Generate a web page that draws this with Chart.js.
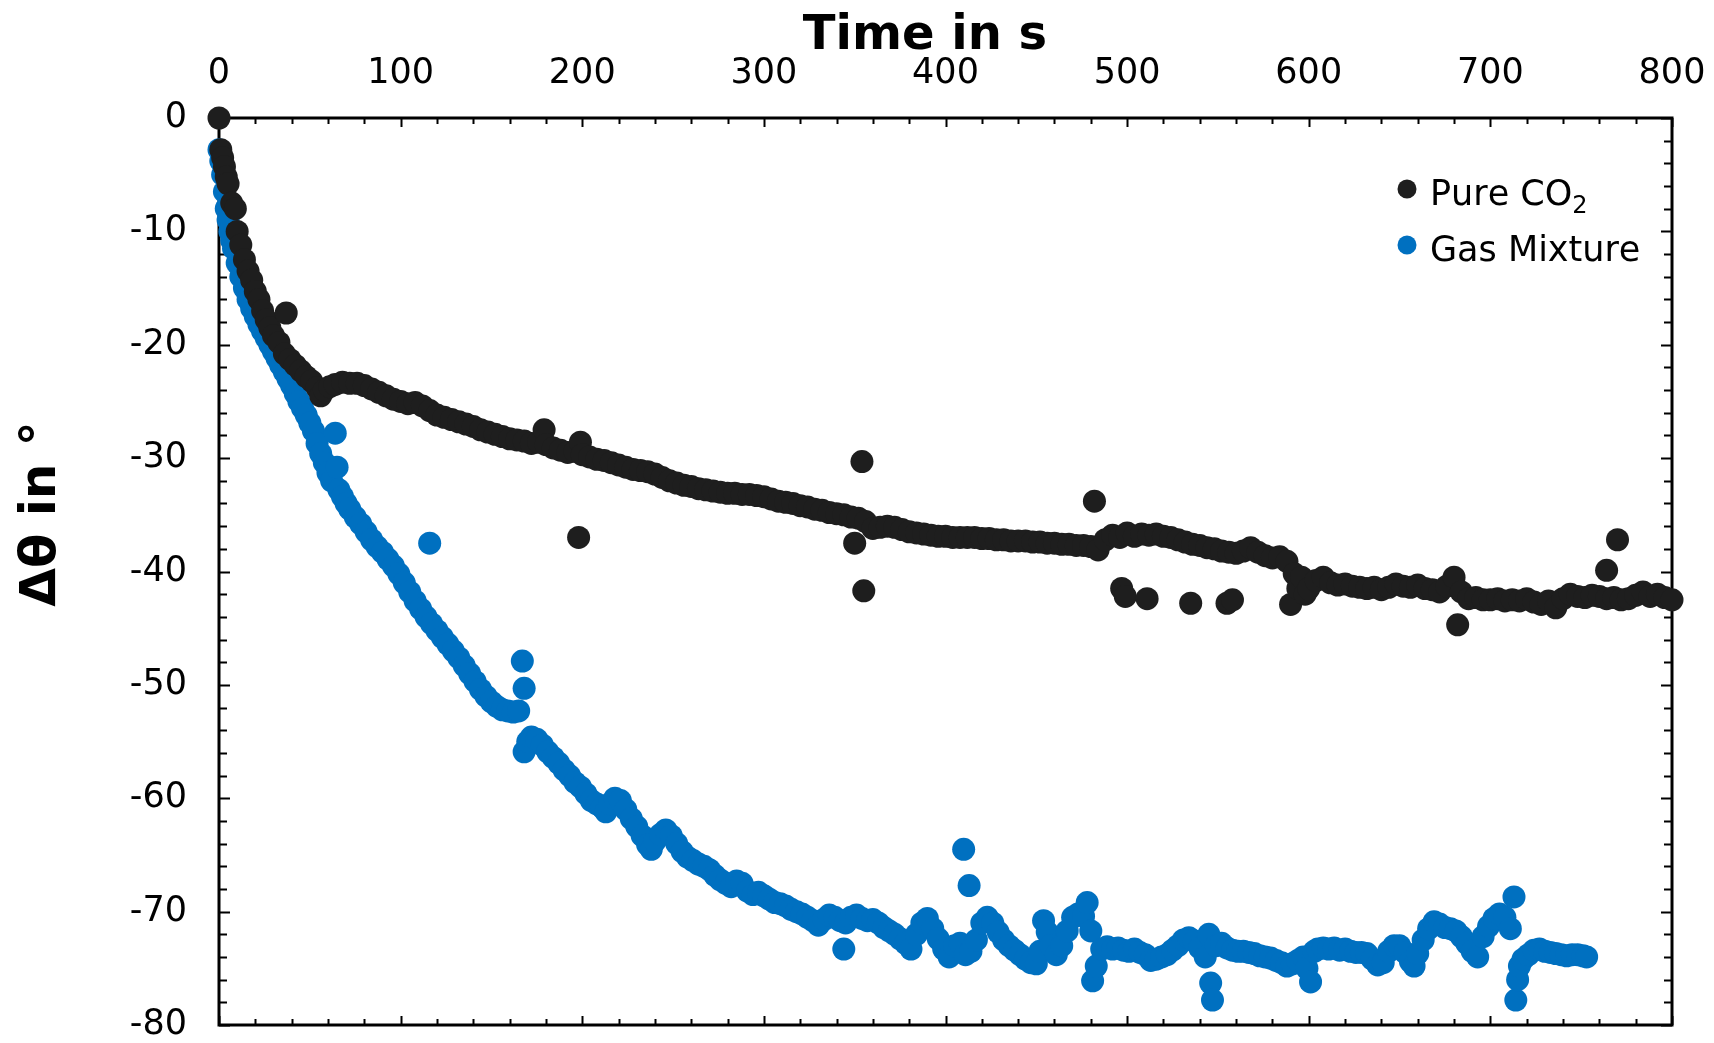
<!DOCTYPE html>
<html>
<head>
<meta charset="utf-8">
<script src="https://cdn.jsdelivr.net/npm/chart.js@4.4.0/dist/chart.umd.min.js"></script>
<style>
html, body { margin: 0; padding: 0; background: #fff; }
#wrap { width: 1714px; height: 1043px; position: relative; }
</style>
</head>
<body>
<div id="wrap"><canvas id="angleChart"></canvas></div>
<script>
// time in s / delta theta in degrees
var co2Time = [
  0,1,2,3,4,5,7,9,10,12,
  14,16,18,20,22,24,26,28,30,33,
  36,37,39,42,45,48,51,54,56,58,
  61,64,68,72,76,80,84,88,92,96,
  100,104,108,112,116,120,124,128,132,136,
  140,144,148,152,156,160,164,168,172,176,
  179,180,184,188,192,196,198,199,200,204,
  208,212,216,220,224,228,232,236,240,244,
  248,252,256,260,264,268,272,276,280,284,
  288,292,296,300,304,308,312,316,320,324,
  328,332,336,340,344,348,350,352,354,355,
  356,360,364,368,372,376,380,384,388,392,
  396,400,404,408,412,416,420,424,428,432,
  436,440,444,448,452,456,460,464,468,472,
  476,480,482,484,488,492,496,497,499,500,
  504,508,511,512,516,520,524,528,532,535,
  536,540,544,548,552,555,556,558,560,564,
  568,572,576,580,584,588,590,592,594,596,
  598,600,604,608,612,616,620,624,628,632,
  636,640,644,648,652,656,660,664,668,672,
  676,680,682,684,688,692,696,700,704,708,
  712,716,720,724,728,732,736,740,744,748,
  752,756,760,764,764,768,770,772,776,780,
  784,788,792,796,800
];
var co2Angle = [
  0,-2.8,-3.5,-4.3,-5.2,-5.8,-7.5,-8,-10,-11.2,
  -12.5,-13.5,-14.3,-15.3,-16,-17,-17.8,-18.5,-19.2,-19.8,
  -20.8,-17.2,-21.3,-21.8,-22.3,-22.8,-23.2,-23.8,-24.5,-24,
  -23.7,-23.5,-23.3,-23.4,-23.4,-23.6,-23.9,-24.2,-24.5,-24.8,
  -25,-25.2,-25.1,-25.4,-25.8,-26.2,-26.4,-26.6,-26.8,-27,
  -27.2,-27.5,-27.7,-27.9,-28.1,-28.3,-28.4,-28.5,-28.7,-28.6,
  -27.5,-28.8,-29.1,-29.3,-29.5,-29.4,-37,-28.6,-29.7,-29.9,
  -30.1,-30.2,-30.4,-30.6,-30.8,-31,-31.1,-31.2,-31.4,-31.7,
  -32,-32.2,-32.4,-32.5,-32.7,-32.8,-32.9,-33,-33.1,-33.1,
  -33.2,-33.2,-33.3,-33.4,-33.6,-33.8,-33.9,-34,-34.2,-34.3,
  -34.5,-34.6,-34.8,-34.9,-35,-35.2,-37.5,-35.3,-30.3,-41.7,
  -35.6,-36.2,-36.1,-36,-36.1,-36.3,-36.5,-36.6,-36.7,-36.8,
  -36.9,-36.9,-37,-37,-37,-37,-37.1,-37.1,-37.2,-37.2,
  -37.3,-37.3,-37.3,-37.4,-37.4,-37.5,-37.5,-37.6,-37.6,-37.7,
  -37.7,-37.8,-33.8,-38.1,-37.2,-36.8,-37,-41.5,-42.2,-36.6,
  -36.9,-36.7,-42.4,-36.8,-36.7,-36.9,-37,-37.2,-37.4,-42.8,
  -37.6,-37.7,-37.9,-38,-38.2,-42.8,-38.3,-42.5,-38.4,-38.2,
  -37.9,-38.3,-38.6,-38.8,-38.7,-39.1,-42.9,-40.2,-41.5,-40.5,
  -42,-41.5,-40.8,-40.5,-41,-41.2,-41.1,-41.3,-41.4,-41.5,
  -41.4,-41.6,-41.4,-41.1,-41.3,-41.4,-41.2,-41.5,-41.6,-41.8,
  -41.3,-40.5,-44.7,-41.8,-42.4,-42.3,-42.5,-42.5,-42.4,-42.6,
  -42.5,-42.6,-42.4,-42.7,-42.9,-42.6,-43.2,-42.4,-42,-42.2,
  -42.3,-42.1,-42.2,-39.9,-42.4,-42.3,-37.2,-42.5,-42.4,-42.1,
  -41.8,-42.2,-42,-42.3,-42.5
];

var mixTime = [
  0,1,2,3,4,5,6,7,8,10,
  12,14,16,18,20,22,24,26,28,30,
  32,34,36,38,40,42,44,46,48,50,
  52,54,56,58,60,62,64,65,66,68,
  70,72,75,78,81,84,87,90,93,96,
  99,102,105,108,111,114,116,117,120,123,
  126,129,132,135,138,141,144,147,150,153,
  156,159,162,165,167,168,168,170,172,175,
  178,181,184,187,190,193,196,199,202,205,
  208,211,213,215,218,221,224,227,230,233,
  236,238,240,243,246,249,252,255,258,261,
  264,267,270,273,276,279,282,285,288,291,
  294,297,300,303,306,309,312,315,318,321,
  324,327,330,333,336,339,342,344,345,348,
  351,354,357,360,363,366,369,372,375,378,
  381,384,387,390,393,396,399,402,405,408,
  410,411,413,414,417,420,423,426,429,432,
  435,438,441,444,447,450,452,454,456,458,
  461,464,467,470,473,476,478,480,481,483,
  486,489,492,495,498,501,504,507,510,513,
  516,519,522,525,528,531,534,537,540,543,
  545,546,547,549,552,555,558,561,564,567,
  570,573,576,579,582,585,588,591,594,597,
  599,601,603,605,608,611,614,617,620,623,
  626,629,632,635,638,641,644,647,650,653,
  656,658,660,663,666,669,672,675,678,681,
  684,687,690,693,696,699,702,705,708,711,
  713,714,715,716,718,721,724,727,730,733,
  736,739,742,745,748,751,753
];
var mixAngle = [
  -2.8,-3.8,-5,-6.5,-8,-9,-10,-10.8,-11.5,-12.8,
  -14,-15,-16,-16.8,-17.5,-18.2,-18.8,-19.4,-20,-20.6,
  -21.2,-21.8,-22.4,-23,-23.6,-24.3,-25,-25.6,-26.2,-26.9,
  -27.6,-28.7,-29.6,-30.4,-31.3,-32,-27.8,-30.8,-32.8,-33.4,
  -34,-34.5,-35.2,-35.8,-36.5,-37.2,-37.8,-38.3,-38.9,-39.5,
  -40.2,-41,-41.8,-42.6,-43.3,-44,-37.5,-44.6,-45.2,-45.8,
  -46.4,-47,-47.6,-48.3,-49,-49.7,-50.4,-51,-51.5,-51.9,
  -52.2,-52.3,-52.4,-52.3,-47.9,-50.3,-55.9,-55,-54.6,-54.8,
  -55.3,-55.9,-56.4,-56.9,-57.5,-58,-58.6,-59,-59.6,-60.2,
  -60.5,-60.8,-61.2,-60.5,-60,-60.2,-61,-61.8,-62.5,-63.3,
  -64.1,-64.5,-63.8,-63.2,-62.8,-63.3,-64,-64.7,-65.2,-65.5,
  -65.8,-66,-66.3,-66.8,-67.2,-67.5,-67.8,-67.3,-67.5,-68.2,
  -68.5,-68.3,-68.6,-68.9,-69.2,-69.3,-69.5,-69.8,-70,-70.2,
  -70.5,-70.8,-71.2,-70.7,-70.3,-70.5,-70.8,-73.3,-71,-70.5,
  -70.3,-70.6,-70.8,-70.7,-71,-71.4,-71.7,-72,-72.4,-72.8,
  -73.3,-72,-71,-70.6,-71.5,-72.4,-73.3,-74,-73,-72.8,
  -64.5,-73.8,-67.7,-73.5,-72.5,-71,-70.5,-71,-71.8,-72.5,
  -73,-73.4,-73.8,-74.2,-74.5,-74.6,-73.5,-70.8,-71.8,-73,
  -73.8,-73,-71.7,-70.5,-70.2,-70.4,-69.2,-71.7,-76.1,-74.8,
  -73.3,-73.1,-73.3,-73.2,-73.4,-73.5,-73.3,-73.6,-73.8,-74.3,
  -74.2,-74,-73.8,-73.4,-73,-72.5,-72.3,-72.6,-73.2,-74,
  -72,-76.3,-77.8,-73,-72.8,-73.2,-73.4,-73.5,-73.5,-73.6,
  -73.7,-73.9,-74,-74.1,-74.3,-74.5,-74.8,-74.6,-74.3,-74,
  -75,-76.2,-73.5,-73.3,-73.2,-73.3,-73.2,-73.4,-73.3,-73.5,
  -73.6,-73.6,-73.7,-74.2,-74.7,-74.5,-73.5,-73,-73,-73.6,
  -74.4,-74.8,-73.7,-72.5,-71.5,-70.9,-71.1,-71.4,-71.5,-71.7,
  -72.2,-72.8,-73.5,-74,-72.2,-71.3,-70.6,-70.2,-70.5,-71.5,
  -68.7,-77.8,-76,-74.8,-74.2,-73.8,-73.4,-73.3,-73.5,-73.6,
  -73.7,-73.8,-73.9,-73.8,-73.8,-73.9,-74
];

var seriesNames = ["Pure CO\u2082", "Gas Mixture"];
var seriesColors = ["#1e1e1e", "#0070c0"];
var xTitle = "Time in s";
var yTitle = "\u0394\u03b8 in \u00b0";
var fontName = "'DejaVu Sans', Verdana, sans-serif";

function toPoints(ts, vs) {
  var pts = [];
  for (var i = 0; i < ts.length; i++) {
    pts.push({ x: ts[i], y: vs[i] });
  }
  return pts;
}

// writes text, turning unicode subscript digits into small lowered digits
function drawSubText(c, text, x, y, size) {
  for (var i = 0; i < text.length; i++) {
    var code = text.charCodeAt(i);
    if (code >= 0x2080 && code <= 0x2089) {
      var d = String.fromCharCode(code - 0x2080 + 48);
      c.font = Math.round(size * 0.68) + 'px ' + fontName;
      c.fillText(d, x, y + size * 0.22);
      x += c.measureText(d).width;
    } else {
      c.font = size + 'px ' + fontName;
      c.fillText(text[i], x, y);
      x += c.measureText(text[i]).width;
    }
  }
}

// frame with inward ticks on all four sides, titles and legend
var framePlugin = {
  id: 'frame',
  beforeDatasetsDraw: function(chart) {
    var c = chart.ctx, a = chart.chartArea;
    var xs = chart.scales.x, ys = chart.scales.y;
    c.save();
    c.strokeStyle = '#000';
    c.lineWidth = 2;
    c.beginPath();
    for (var t = xs.min; t <= xs.max; t += 20) {
      var px = Math.round(xs.getPixelForValue(t)) + 0.5;
      var len = (t % 100 === 0) ? 9 : 6;
      c.moveTo(px, a.top); c.lineTo(px, a.top + len);
      c.moveTo(px, a.bottom); c.lineTo(px, a.bottom - len);
    }
    for (var v = ys.max; v >= ys.min; v -= 2) {
      var py = Math.round(ys.getPixelForValue(v)) + 0.5;
      var ln = (v % 10 === 0) ? 11 : 8;
      c.moveTo(a.left, py); c.lineTo(a.left + ln, py);
      c.moveTo(a.right, py); c.lineTo(a.right - ln, py);
    }
    c.stroke();
    c.lineWidth = 3;
    c.strokeRect(a.left, a.top, a.right - a.left, a.bottom - a.top);
    c.restore();
  },
  afterDraw: function(chart) {
    var c = chart.ctx;
    c.save();
    c.fillStyle = '#000';
    c.font = 'bold 48px ' + fontName;
    c.textAlign = 'center';
    c.textBaseline = 'alphabetic';
    c.fillText(xTitle, 925, 49);

    c.font = 'bold 50px ' + fontName;
    c.translate(55, 514);
    c.rotate(-Math.PI / 2);
    c.fillText(yTitle, 0, 0);
    c.restore();

    // legend
    c.save();
    c.textAlign = 'left';
    c.textBaseline = 'alphabetic';
    var rows = [189, 245];
    chart.data.datasets.forEach(function(ds, i) {
      c.fillStyle = ds.backgroundColor;
      c.beginPath();
      c.arc(1407, rows[i], 9.5, 0, Math.PI * 2);
      c.fill();
      c.fillStyle = '#000';
      drawSubText(c, ds.label, 1430, rows[i] + 16, 35);
    });
    c.restore();
  }
};

var ctx = document.getElementById('angleChart').getContext('2d');
var chart = new Chart(ctx, {
  type: 'scatter',
  data: {
    datasets: [
      {
        label: seriesNames[0],
        data: toPoints(co2Time, co2Angle),
        backgroundColor: seriesColors[0],
        borderWidth: 0,
        pointRadius: 11.5,
        pointHoverRadius: 11.5,
        clip: false
      },
      {
        label: seriesNames[1],
        data: toPoints(mixTime, mixAngle),
        backgroundColor: seriesColors[1],
        borderWidth: 0,
        pointRadius: 11.5,
        pointHoverRadius: 11.5,
        clip: false
      }
    ]
  },
  options: {
    responsive: true,
    maintainAspectRatio: false,
    animation: false,
    layout: { padding: { left: 0, right: 42, top: 0, bottom: 18 } },
    plugins: {
      legend: { display: false },
      tooltip: { enabled: false }
    },
    scales: {
      x: {
        type: 'linear',
        position: 'top',
        min: 0,
        max: 800,
        grid: { display: false },
        border: { display: false },
        ticks: {
          stepSize: 100,
          padding: 19,
          maxRotation: 0,
          color: '#000',
          font: { family: fontName, size: 35, lineHeight: 1 }
        },
        afterFit: function(s) {
          s.height = 118;
          s.paddingLeft = 0;
          s.paddingRight = 0;
        }
      },
      y: {
        type: 'linear',
        position: 'left',
        min: -80,
        max: 0,
        grid: { display: false },
        border: { display: false },
        ticks: {
          stepSize: 10,
          padding: 24,
          color: '#000',
          font: { family: fontName, size: 35, lineHeight: 1 }
        },
        afterFit: function(s) {
          s.width = 219;
          s.paddingTop = 0;
          s.paddingBottom = 0;
        }
      }
    }
  },
  plugins: [framePlugin]
});
</script>
</body>
</html>
